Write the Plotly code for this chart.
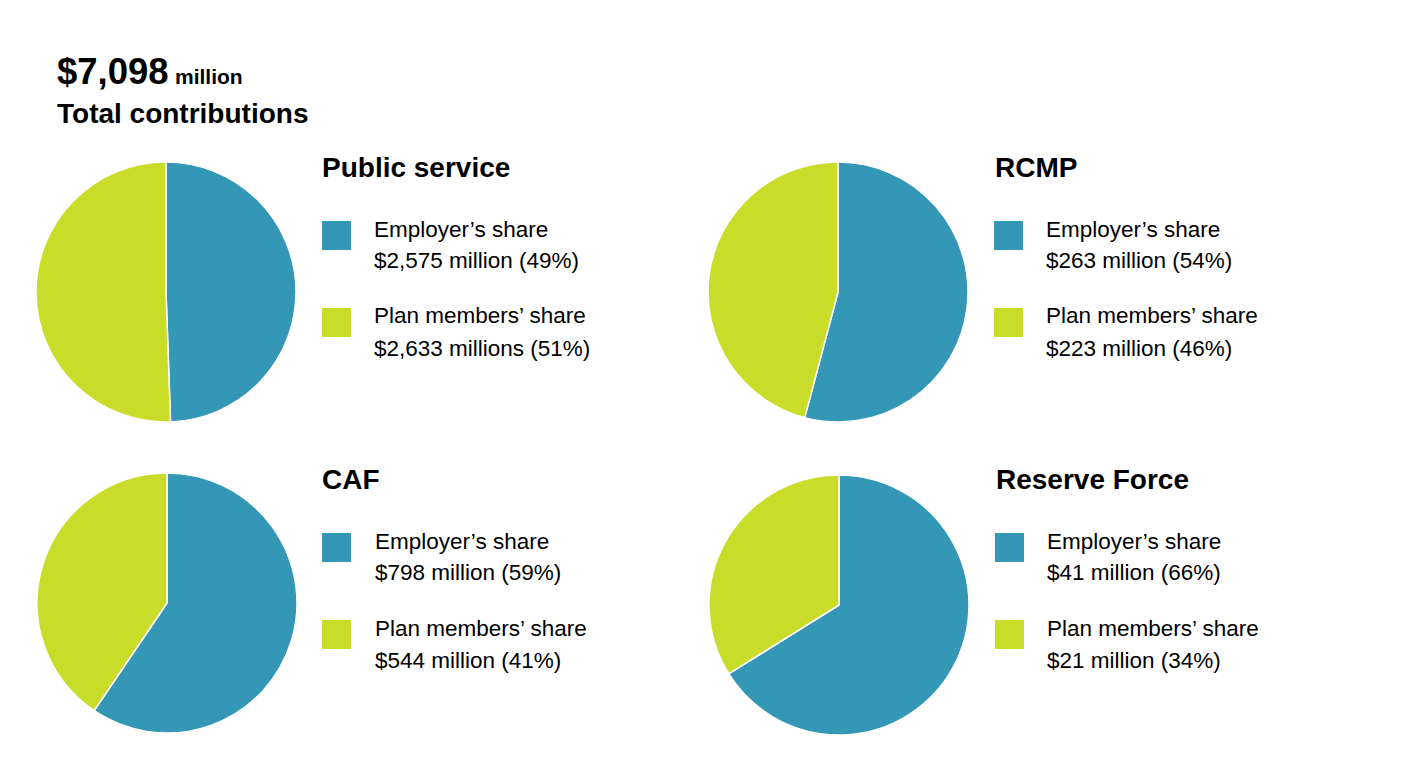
import plotly.graph_objects as go

# Contributions by pension plan ($ millions)
groups = ["Public service", "RCMP", "CAF", "Reserve Force"]
share_labels = ["Employer’s share", "Plan members’ share"]
employer = [2575, 263, 798, 41]
members = [2633, 223, 544, 21]
employer_text = ["$2,575 million (49%)", "$263 million (54%)", "$798 million (59%)", "$41 million (66%)"]
members_text = ["$2,633 millions (51%)", "$223 million (46%)", "$544 million (41%)", "$21 million (34%)"]
total_text = "$7,098"

W, H = 1404, 758
OFF = 8  # page body margin
TEAL = "#3397b5"
LIME = "#cadc2a"
FONT = "Liberation Sans, Arial, sans-serif"


def px(x):
    return (x - OFF) / W


def py(y):
    return 1 - (y - OFF) / H


# pixel layout of each panel: pie centre, title, legend squares and text
pie_centres = [(166, 292), (838, 292), (167, 603), (839, 605)]
radius = 130
title_pos = [(320, 167), (993, 167), (320, 479), (994, 479)]
square_x = [322, 994, 322, 995]
text_x = [372, 1044, 373, 1045]
row_dy = [0, 0, 312, 312]

fig = go.Figure()
annotations = []
shapes = []

for i, g in enumerate(groups):
    cx, cy = pie_centres[i]
    fig.add_trace(go.Pie(
        labels=share_labels,
        values=[employer[i], members[i]],
        name=g,
        sort=False,
        direction="clockwise",
        rotation=0,
        marker=dict(colors=[TEAL, LIME], line=dict(color="white", width=1.5)),
        textinfo="none",
        hoverinfo="label+value+percent",
        showlegend=False,
        domain=dict(x=[px(cx - radius), px(cx + radius)], y=[py(cy + radius), py(cy - radius)]),
    ))

    tx, ty = title_pos[i]
    annotations.append(dict(text="<b>" + g + "</b>", x=px(tx), y=py(ty), xanchor="left", yanchor="middle",
                            font=dict(size=28, color="black")))

    dy = row_dy[i]
    lines = [(share_labels[0], 229), (employer_text[i], 260), (share_labels[1], 316), (members_text[i], 348)]
    for txt, ly in lines:
        annotations.append(dict(text=txt, x=px(text_x[i]), y=py(ly + dy), xanchor="left", yanchor="middle",
                                font=dict(size=22.5, color="black")))

    for col, top in [(TEAL, 221), (LIME, 308)]:
        shapes.append(dict(type="rect", xref="paper", yref="paper",
                           x0=px(square_x[i]), x1=px(square_x[i] + 29),
                           y0=py(top + dy + 29), y1=py(top + dy),
                           fillcolor=col, line=dict(width=0)))

# headline
annotations.append(dict(text="<b>" + total_text + "</b>", x=px(55), y=py(71), xanchor="left", yanchor="middle",
                        font=dict(size=36.5, color="black")))
annotations.append(dict(text="<b>million</b>", x=px(173), y=py(76), xanchor="left", yanchor="middle",
                        font=dict(size=21, color="black")))
annotations.append(dict(text="<b>Total contributions</b>", x=px(55), y=py(113), xanchor="left", yanchor="middle",
                        font=dict(size=28, color="black")))

for a in annotations:
    a.update(xref="paper", yref="paper", showarrow=False)

fig.update_layout(
    width=W, height=H,
    margin=dict(l=0, r=0, t=0, b=0),
    paper_bgcolor="white",
    plot_bgcolor="white",
    font=dict(family=FONT, color="black"),
    annotations=annotations,
    shapes=shapes,
)

fig.write_html("out.html")
